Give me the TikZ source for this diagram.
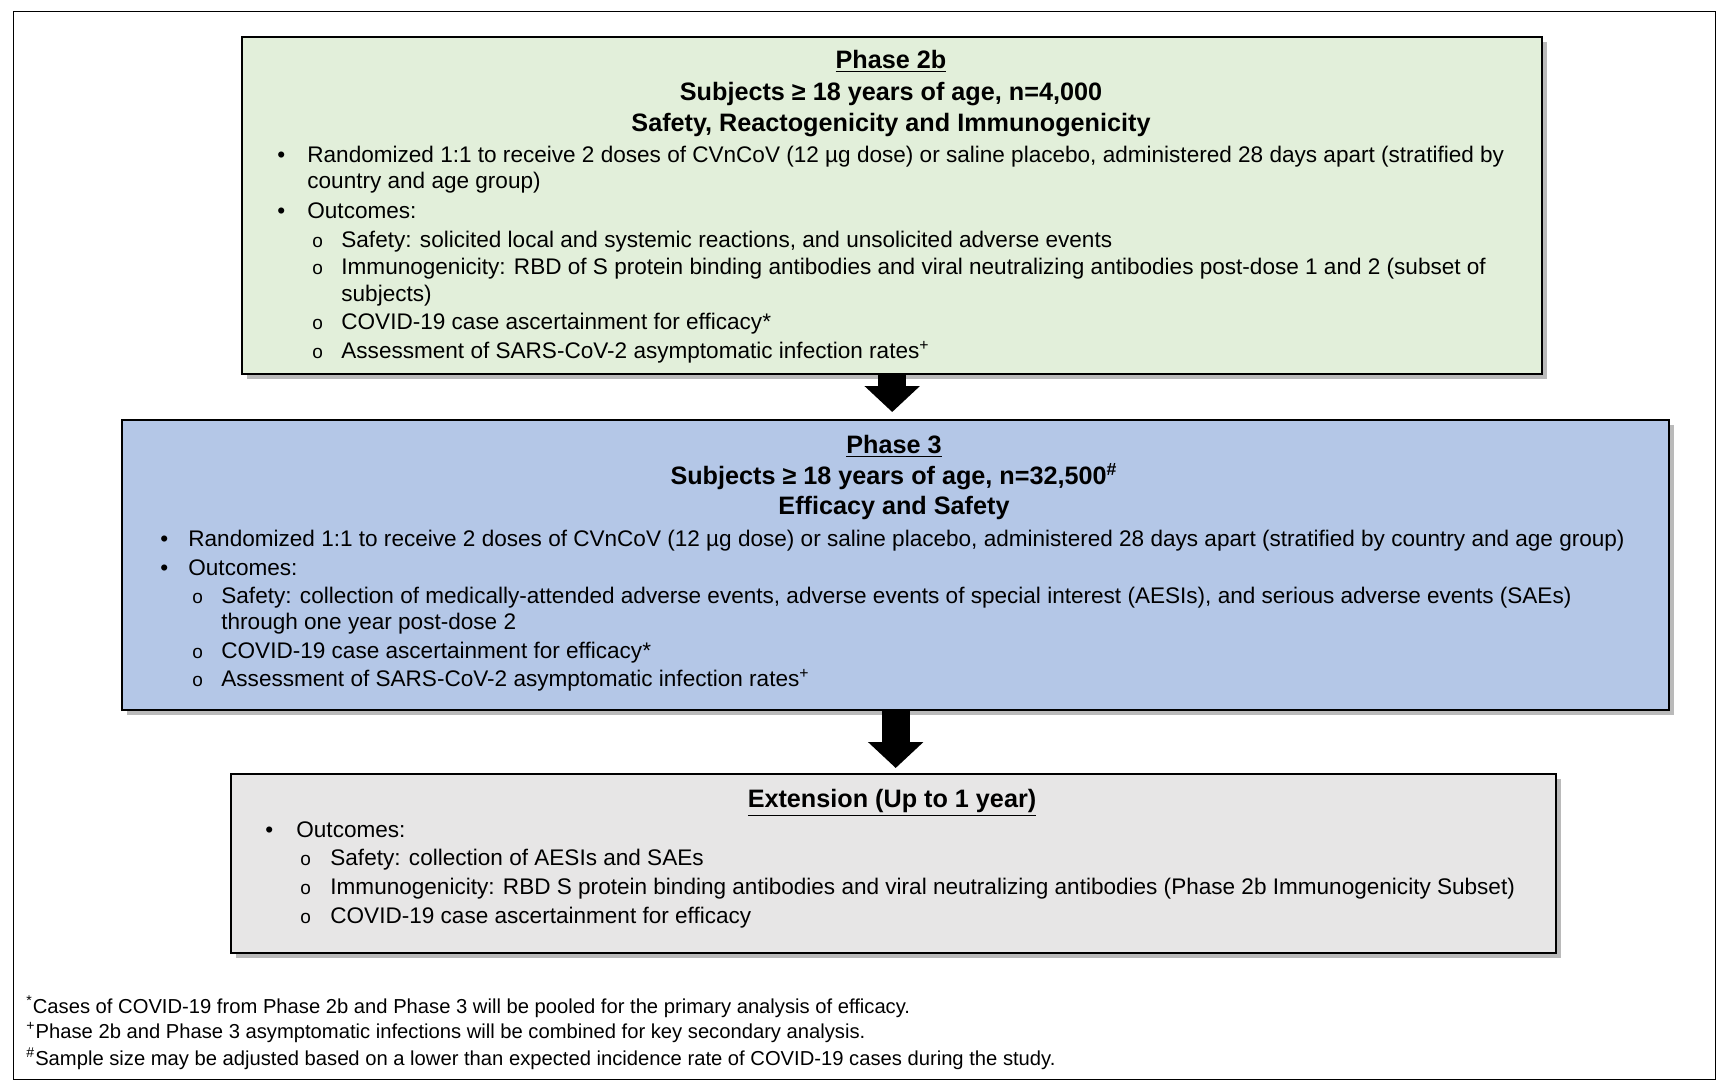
\documentclass[tikz,border=0pt]{standalone}
\usepackage{fontspec}
\setmainfont{Liberation Sans}
\usetikzlibrary{shadows,arrows.meta}
\definecolor{pgreen}{HTML}{E2EFDA}
\definecolor{pblue}{HTML}{B4C7E7}
\definecolor{pgray}{HTML}{E7E6E6}
\begin{document}
\begin{tikzpicture}[x=0.5pt,y=-0.5pt,
  phasebox/.style={draw=black, line width=1.2pt, inner sep=0pt, anchor=north west,
    drop shadow={shadow xshift=2.5pt, shadow yshift=-2.5pt, opacity=0.45, fill=black!60}},
  ttl/.style={font=\fontsize{12.6}{14}\selectfont\bfseries, anchor=base, inner sep=0pt},
  txt/.style={font=\fontsize{11.28}{13}\selectfont, anchor=base west, inner sep=0pt},
  bul/.style={font=\fontsize{11.28}{13}\selectfont, anchor=base west, inner sep=0pt},
  circ/.style={font=\fontsize{9.5}{13}\selectfont, anchor=base west, inner sep=0pt},
  fn/.style={font=\fontsize{10.1}{12}\selectfont, anchor=base west, inner sep=0pt},
  bigarrow/.style={line width=14pt, -{Triangle[width=27pt,length=13pt]}}
]
\useasboundingbox (0,0) rectangle (1720,1088);
\node[draw=black, line width=0.7pt, anchor=north west, minimum width=851pt, minimum height=534pt, inner sep=0pt] (frame) at (13,11) {};

% Phase 2b
\node[phasebox, fill=pgreen, minimum width=650pt, minimum height=168.5pt] (p2b) at (241,36) {};
\node[ttl] (a0) at (891,68) {\underline{Phase 2b}};
\node[ttl] (a1) at (891,100) {Subjects ≥ 18 years of age, n=4,000};
\node[ttl] (a2) at (891,131) {Safety, Reactogenicity and Immunogenicity};
\node[bul] (ab1) at (277,162) {•};
\node[txt] (at1) at (307,162) {Randomized 1:1 to receive 2 doses of CVnCoV (12 µg dose) or saline placebo, administered 28 days apart (stratified by};
\node[txt] (at2) at (307,188) {country and age group)};
\node[bul] (ab2) at (277,218) {•};
\node[txt] (at3) at (307,218) {Outcomes:};
\node[circ] (ac1) at (312,247) {o};
\node[txt] (at4) at (341,247) {Safety: solicited local and systemic reactions, and unsolicited adverse events};
\node[circ] (ac2) at (312,274) {o};
\node[txt] (at5) at (341,274) {Immunogenicity: RBD of S protein binding antibodies and viral neutralizing antibodies post-dose 1 and 2 (subset of};
\node[txt] (at6) at (341,301) {subjects)};
\node[circ] (ac3) at (312,329) {o};
\node[txt] (at7) at (341,329) {COVID-19 case ascertainment for efficacy*};
\node[circ] (ac4) at (312,358) {o};
\node[txt] (at8) at (341,358) {Assessment of SARS-CoV-2 asymptomatic infection rates\textsuperscript{+}};

% Phase 3
\node[phasebox, fill=pblue, minimum width=773.5pt, minimum height=145pt] (p3) at (121,419) {};
\node[ttl] (b0) at (894,453) {\underline{Phase 3}};
\node[ttl] (b1) at (894,484) {Subjects ≥ 18 years of age, n=32,500\textsuperscript{\#}};
\node[ttl] (b2) at (894,514) {Efficacy and Safety};
\node[bul] (bb1) at (160,546) {•};
\node[txt] (bt1) at (188,546) {Randomized 1:1 to receive 2 doses of CVnCoV (12 µg dose) or saline placebo, administered 28 days apart (stratified by country and age group)};
\node[bul] (bb2) at (160,575) {•};
\node[txt] (bt2) at (188,575) {Outcomes:};
\node[circ] (bc1) at (192,603) {o};
\node[txt] (bt3) at (221,603) {Safety: collection of medically-attended adverse events, adverse events of special interest (AESIs), and serious adverse events (SAEs)};
\node[txt] (bt4) at (221,629) {through one year post-dose 2};
\node[circ] (bc2) at (192,658) {o};
\node[txt] (bt5) at (221,658) {COVID-19 case ascertainment for efficacy*};
\node[circ] (bc3) at (192,686) {o};
\node[txt] (bt6) at (221,686) {Assessment of SARS-CoV-2 asymptomatic infection rates\textsuperscript{+}};

% Extension
\node[phasebox, fill=pgray, minimum width=662.5pt, minimum height=89.5pt] (ext) at (230,773) {};
\node[ttl] (c0) at (892,807) {\underline{Extension (Up to 1 year)}};
\node[bul] (cb1) at (265,837) {•};
\node[txt] (ct1) at (296,837) {Outcomes:};
\node[circ] (cc1) at (300,865) {o};
\node[txt] (ct2) at (330,865) {Safety: collection of AESIs and SAEs};
\node[circ] (cc2) at (300,894) {o};
\node[txt] (ct3) at (330,894) {Immunogenicity: RBD S protein binding antibodies and viral neutralizing antibodies (Phase 2b Immunogenicity Subset)};
\node[circ] (cc3) at (300,923) {o};
\node[txt] (ct4) at (330,923) {COVID-19 case ascertainment for efficacy};

% Arrows
\coordinate (e1) at ([yshift=3.5pt]p3.north);
\coordinate (e2) at ([yshift=2.5pt]ext.north);
\draw[bigarrow] (p2b.south) -- (p2b.south |- e1);
\draw[bigarrow] (p3.south) -- (p3.south |- e2);

% Footnotes
\node[fn] (f1) at (26,1013) {\textsuperscript{*}Cases of COVID-19 from Phase 2b and Phase 3 will be pooled for the primary analysis of efficacy.};
\node[fn] (f2) at (26,1038) {\textsuperscript{+}Phase 2b and Phase 3 asymptomatic infections will be combined for key secondary analysis.};
\node[fn] (f3) at (26,1065) {\textsuperscript{\#}Sample size may be adjusted based on a lower than expected incidence rate of COVID-19 cases during the study.};
\end{tikzpicture}
\end{document}
